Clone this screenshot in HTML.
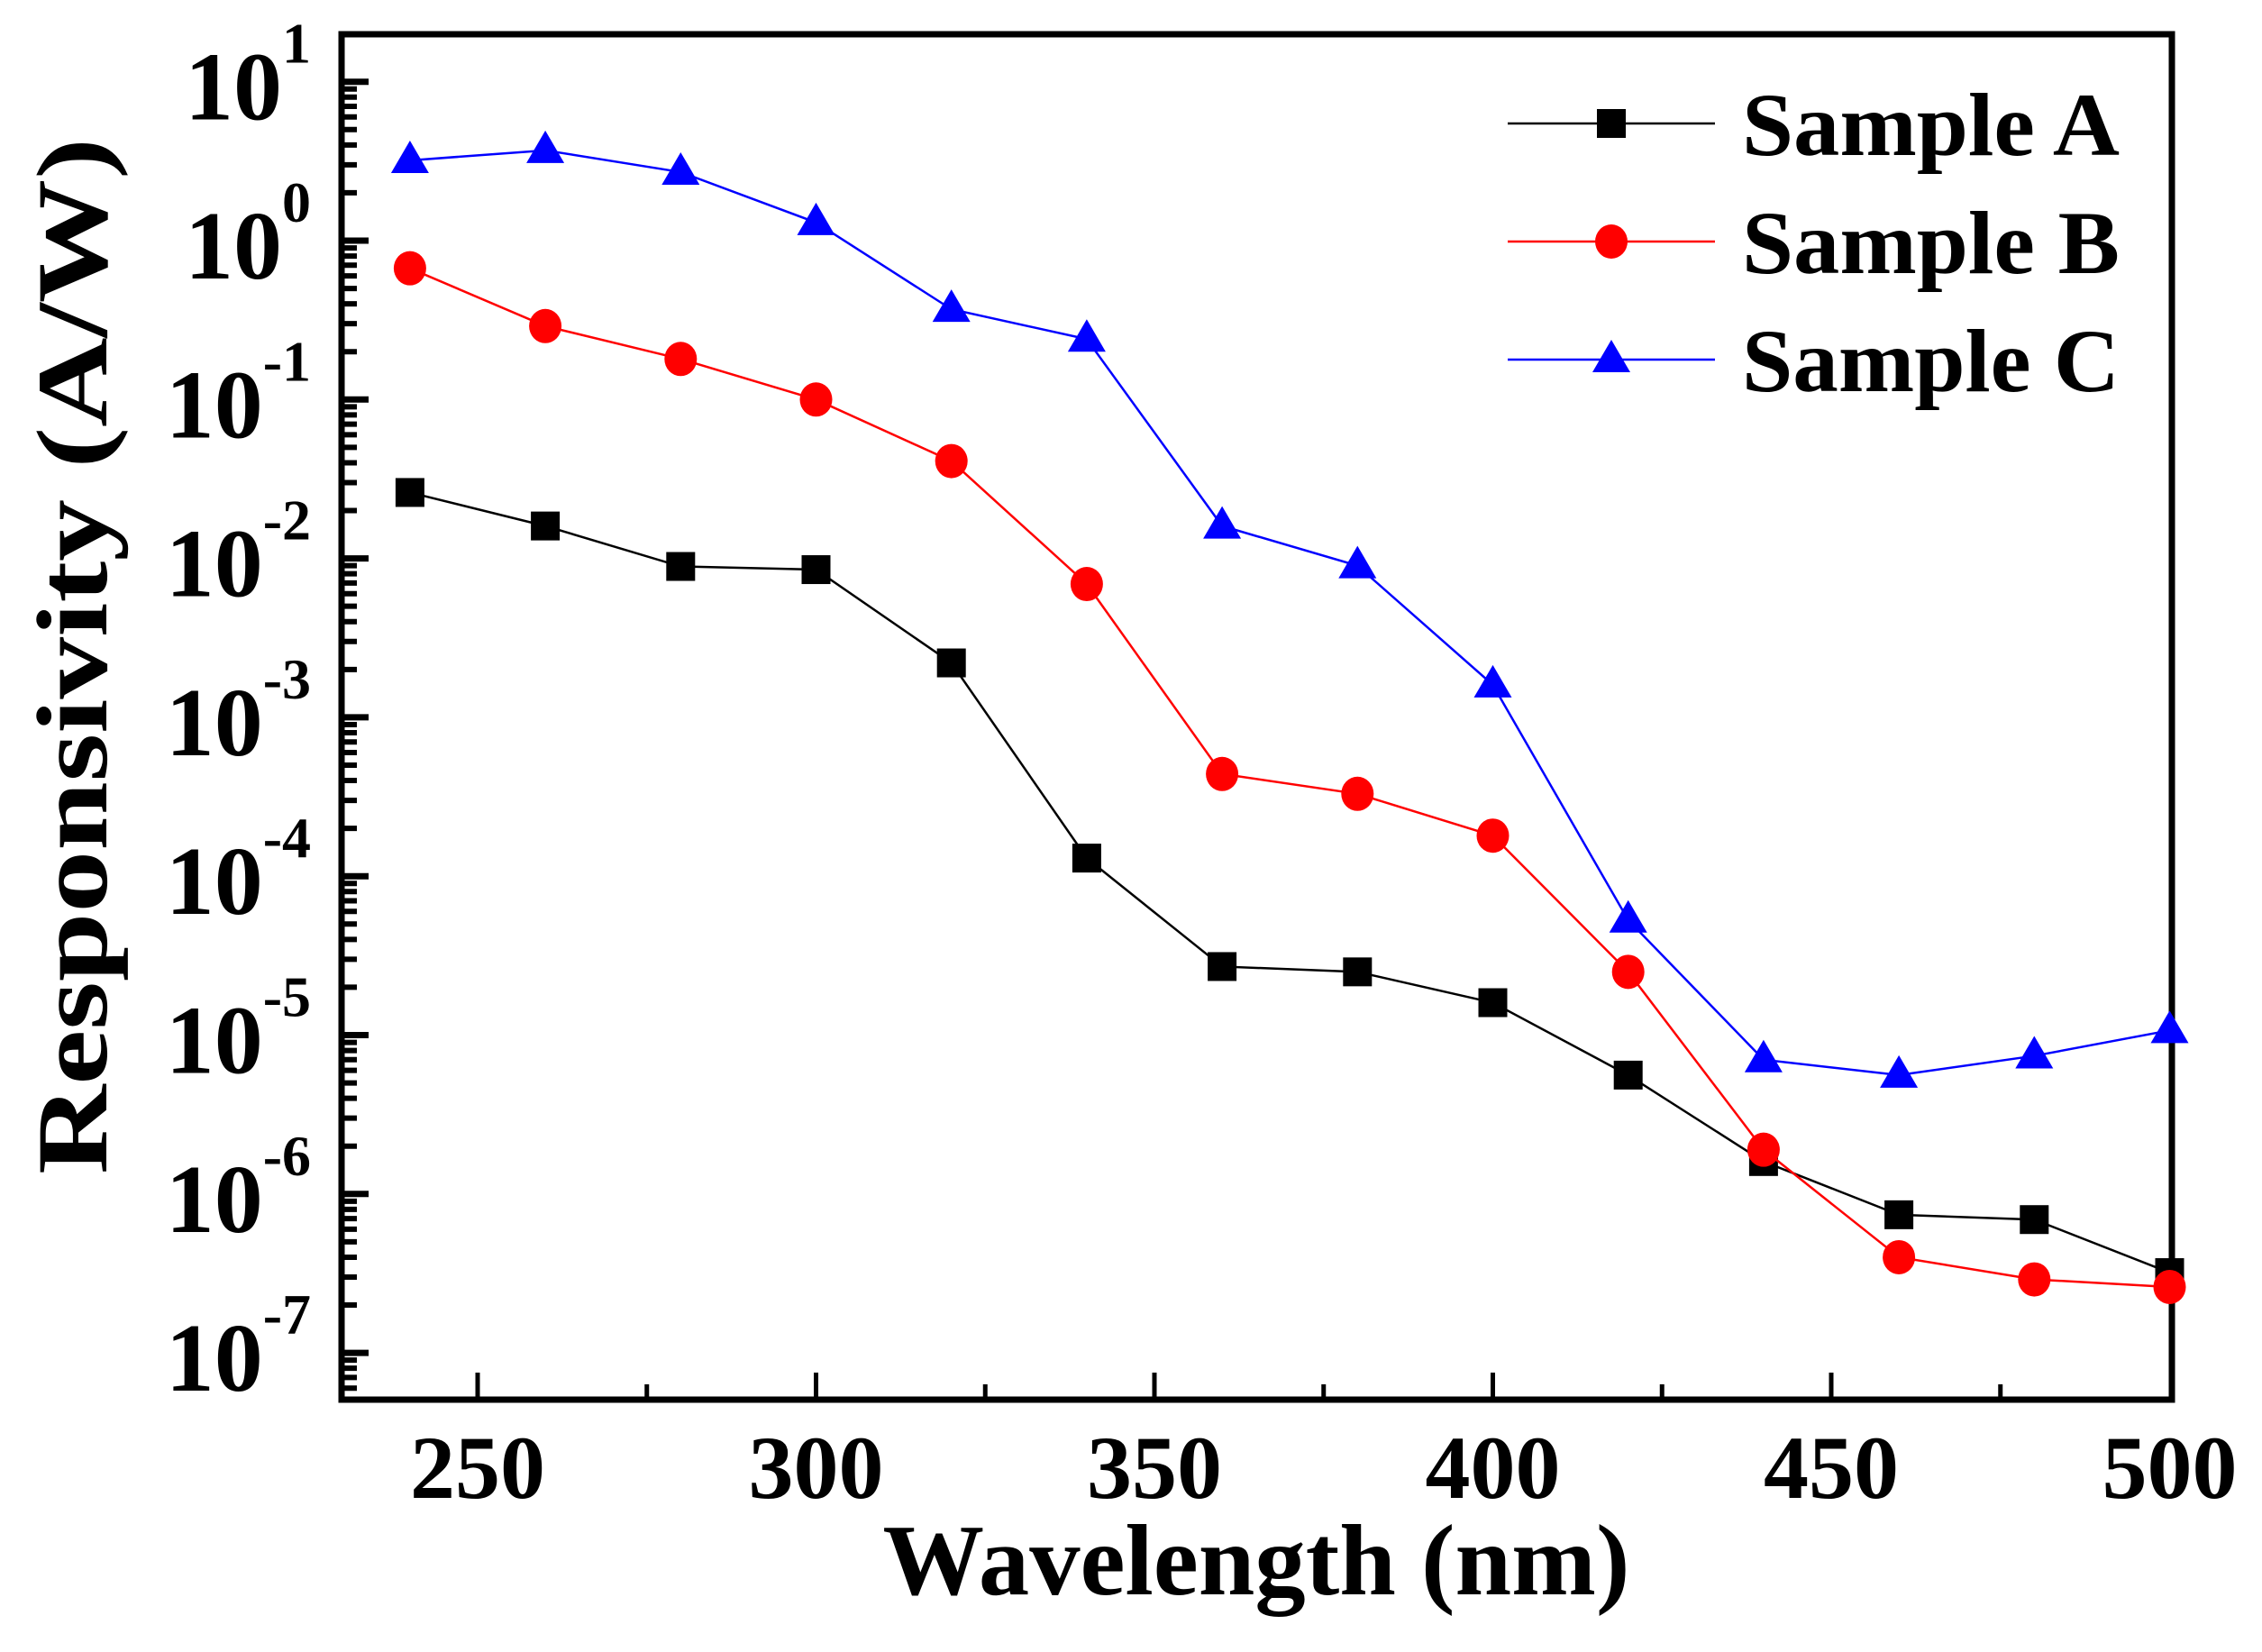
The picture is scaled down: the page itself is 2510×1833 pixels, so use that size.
<!DOCTYPE html>
<html><head><meta charset="utf-8"><style>
html,body{margin:0;padding:0;background:#fff;}
svg{display:block;font-family:"Liberation Serif",serif;font-weight:bold;}
</style></head><body>
<svg id="chart" width="2510" height="1833" viewBox="0 0 2510 1833" xmlns="http://www.w3.org/2000/svg">
<g id="plot"></g>
</svg>
<script>
const wavelengths = [240,260,280,300,320,340,360,380,400,420,440,460,480,500];
const sampleA = [0.026,0.016,0.0089,0.0085,0.0022,1.3e-4,2.7e-5,2.5e-5,1.6e-5,5.6e-6,1.6e-6,7.4e-7,6.9e-7,3.2e-7];
const sampleB = [0.67,0.29,0.18,0.10,0.041,0.0069,4.4e-4,3.3e-4,1.8e-4,2.5e-5,1.9e-6,4.0e-7,2.9e-7,2.6e-7];
const sampleC = [3.2,3.7,2.7,1.3,0.37,0.24,0.016,0.0090,0.0016,5.3e-5,7.0e-6,5.6e-6,7.4e-6,1.07e-5];
const xTicks = [250,300,350,400,450,500];
const yExponents = [1,0,-1,-2,-3,-4,-5,-6,-7];
const seriesNames = ["Sample A","Sample B","Sample C"];

const NS="http://www.w3.org/2000/svg";
const g=document.getElementById('plot');
const L=379,R=2410,T=38,B=1553;
function xs(v){return 530+(v-250)*7.51;}
function ys(v){return 267-Math.log10(v)*176.3;}
function mk(tag,attrs,parent){const e=document.createElementNS(NS,tag);for(const k in attrs)e.setAttribute(k,attrs[k]);(parent||g).appendChild(e);return e;}

// ticks
for(let e=2;e>=-8;e--){
  for(let m=1;m<10;m++){
    const v=m*Math.pow(10,e);const y=ys(v);
    if(y<T+3||y>B-3)continue;
    const t=mk('line',{x1:L,x2:L+(m===1?30:17),y1:y,y2:y,stroke:'#000','stroke-width':m===1?7:6});
    
    
  }
}
for(let v=250;v<=500;v+=25){
  const x=xs(v);if(x>R-3)continue;
  const t=mk('line',{x1:x,x2:x,y1:B,y2:B-(v%50===0?30:17),stroke:'#000','stroke-width':5});
  
  
}
// frame
const fr=mk('rect',{x:L,y:T,width:R-L,height:B-T,fill:'none',stroke:'#000','stroke-width':7});



// y labels
yExponents.forEach(k=>{
  const y=ys(Math.pow(10,k));
  const t=mk('text',{x:345,y:y+42,'text-anchor':'end','font-size':108});
  
  
  t.appendChild(document.createTextNode('10'));
  const s=mk('tspan',{dy:-63,'font-size':64},t);
  s.textContent=(k<0?'-':'')+Math.abs(k);
});
// x labels
xTicks.forEach(v=>{
  const t=mk('text',{x:xs(v),y:1662,'text-anchor':'middle','font-size':100});
  
  
  t.textContent=v;
});
// titles
const xt=mk('text',{x:1394,y:1769,'text-anchor':'middle','font-size':112,textLength:829,lengthAdjust:'spacingAndGlyphs'});


xt.textContent='Wavelength (nm)';
const yt=mk('text',{x:0,y:0,'text-anchor':'middle','font-size':112,textLength:1150,lengthAdjust:'spacingAndGlyphs',transform:'translate(118,728) rotate(-90)'});


yt.textContent='Responsivity (A/W)';

const colors=['#000','#f00','#00f'];
function marker(type,x,y,c,parent){
  let m;
  if(type===0)m=mk('rect',{x:x-16,y:y-16,width:32,height:32,fill:c},parent);
  else if(type===1)m=mk('ellipse',{cx:x,cy:y,rx:18,ry:19,fill:c},parent);
  else m=mk('polygon',{points:`${x},${y-22} ${x+21},${y+14} ${x-21},${y+14}`,fill:c},parent);
  return m;
}
const allSeries=[sampleA,sampleB,sampleC];
allSeries.forEach((vals,si)=>{
  const sg=mk('g',{});
  
  
  const pts=wavelengths.map((w,i)=>xs(w)+','+ys(vals[i])).join(' ');
  const pl=mk('polyline',{points:pts,fill:'none',stroke:colors[si],'stroke-width':2.5},sg);
  
  
  wavelengths.forEach((w,i)=>{
    const m=marker(si,xs(w),ys(vals[i]),colors[si],sg);
    
    
  });
});
// legend
const rows=[137,268,399];
const lg=mk('g',{});


seriesNames.forEach((n,i)=>{
  const eg=mk('g',{},lg);
  
  
  mk('line',{x1:1673,x2:1903,y1:rows[i],y2:rows[i],stroke:colors[i],'stroke-width':2.5},eg);
  marker(i,1788,rows[i],colors[i],eg);
  const t=mk('text',{x:1933,y:rows[i]+35,'font-size':100,textLength:419,lengthAdjust:'spacingAndGlyphs'},eg);
  
  
  t.textContent=n;
});
</script>
</body></html>
